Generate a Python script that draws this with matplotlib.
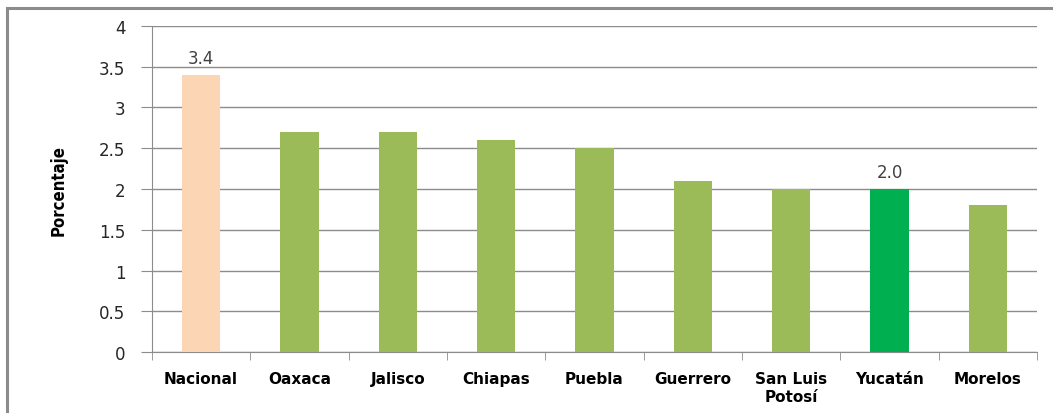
import numpy as np
import matplotlib.pyplot as plt
from matplotlib.patches import Rectangle

categorias = ['Nacional', 'Oaxaca', 'Jalisco', 'Chiapas', 'Puebla',
              'Guerrero', 'San Luis\nPotosí', 'Yucatán', 'Morelos']
valores = [3.4, 2.7, 2.7, 2.6, 2.5, 2.1, 2.0, 2.0, 1.8]
colores = ['#FCD5B5', '#9BBB59', '#9BBB59', '#9BBB59', '#9BBB59',
           '#9BBB59', '#9BBB59', '#00B050', '#9BBB59']
etiquetas = {0: '3.4', 7: '2.0'}

fig = plt.figure(figsize=(10.53, 4.14), dpi=100)
ax = fig.add_axes([0.1443, 0.1473, 0.8405, 0.7875])

x = np.arange(len(categorias))
ax.bar(x, valores, width=0.39, color=colores, zorder=3)

for i, txt in etiquetas.items():
    ax.text(x[i], valores[i] + 0.1, txt, ha='center', va='bottom',
            fontsize=12, color='#404040')

ax.set_xlim(-0.5, len(categorias) - 0.5)
ax.set_ylim(0, 4)
ax.set_yticks(np.arange(0, 4.01, 0.5))
ax.set_yticklabels(['0', '0.5', '1', '1.5', '2', '2.5', '3', '3.5', '4'])
ax.yaxis.grid(True, color='#8C8C8C', linewidth=1, zorder=0)
ax.tick_params(axis='y', length=8, color='#8C8C8C', labelsize=12,
               labelcolor='#262626', pad=11)

ax.set_xticks(np.arange(-0.5, len(categorias), 1), minor=True)
ax.set_xticks(x)
ax.set_xticklabels(categorias, fontsize=11, fontweight='bold', color='black')
ax.tick_params(axis='x', which='major', length=0, pad=14)
ax.tick_params(axis='x', which='minor', length=6, color='#8C8C8C')

for s in ['top', 'right']:
    ax.spines[s].set_visible(False)
ax.spines['left'].set_color('#8C8C8C')
ax.spines['bottom'].set_color('#8C8C8C')

ax.set_ylabel('Porcentaje', fontsize=12,
              family=['Liberation Sans Narrow', 'DejaVu Sans'],
              fontstretch='condensed', fontweight='bold', labelpad=23)

# marco exterior del grafico (solo se ven borde izquierdo y superior)
fig.patches.append(Rectangle((7 / 1053, -0.1), 1.2, 1 - 9 / 414 + 0.1,
                             transform=fig.transFigure, fill=False,
                             edgecolor='#8C8C8C', linewidth=2.2))

fig.savefig('out.png', dpi=100)
